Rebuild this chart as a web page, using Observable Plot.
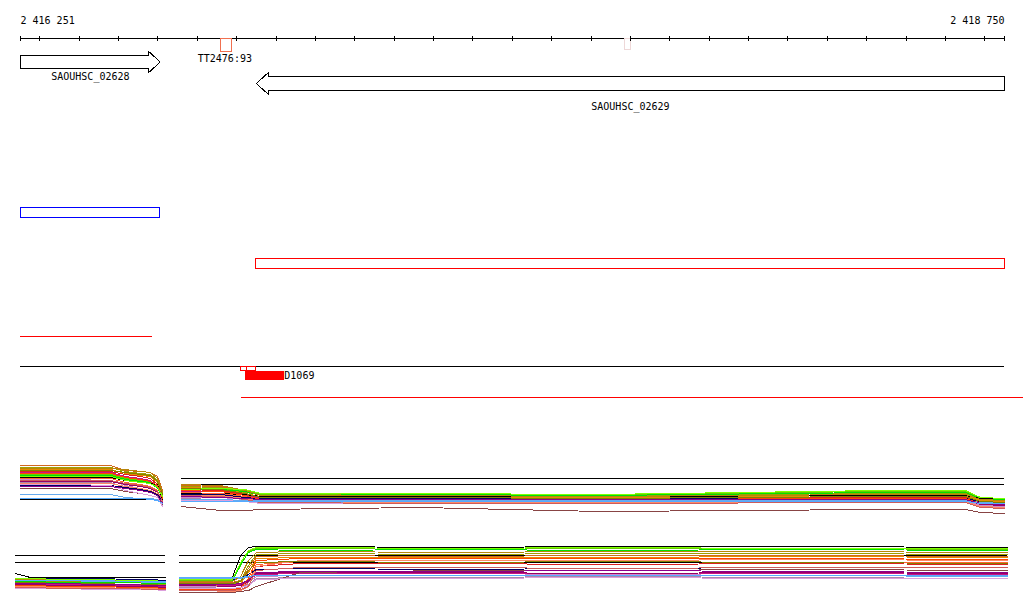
<!DOCTYPE html>
<html><head><meta charset="utf-8">
<script src="https://cdn.jsdelivr.net/npm/d3@7"></script>
<script src="https://cdn.jsdelivr.net/npm/@observablehq/plot@0.6"></script>
<style>
html,body{margin:0;padding:0;background:#fff;}
#chart{position:relative;width:1024px;height:611px;overflow:hidden;background:#fff;}
#chart svg{position:absolute;left:0;overflow:visible;background:transparent;max-width:none;}
</style></head><body><div id="chart"></div>
<script>
// ---------- data ----------
const VIEW = [2416251, 2418750];
const coordLabels = ["2 416 251", "2 418 750"];
const tickStep = 100;

const geneNames = ["SAOUHSC_02628", "SAOUHSC_02629"];
const geneStarts = [2416251, 2416850];
const geneEnds = [2416606, 2418750];
const geneStrands = ["+", "-"];
const geneRows = [0, 1];

const siteNames = ["TT2476:93", ""];
const siteStarts = [2416759, 2417787];
const siteEnds = [2416787, 2417802];

const blueRegion = [2416251, 2416606];
const redRegion = [2416850, 2418750];
const redLine1 = [2416251, 2416586];
const blackLine = [2416251, 2418750];
const smallBoxStarts = [2416812, 2416825];
const smallBoxEnds = [2416850, 2416850];
const probeName = ["D1069"];
const probeRange = [2416822, 2416921];
const redLine2 = [2416812, 2418798];

const seriesColors = ["#d2691e","#a0a000","#e68a00","#dd2020","#c71585","#66cc00","#00e000","#000000",
  "#ff6633","#cc88cc","#990066","#aa88aa","#ff8866","#000066","#66aaee","#884444",
  "#b8860b","#808000","#ff4500","#dda0dd","#7fff00","#cd5c5c","#8b008b","#55aaff"];

// top strand profiles
const topLeftX = [2416251, 2416378, 2416480, 2416518, 2416556, 2416581, 2416599, 2416612];
const topRightX = [2416660, 2416759, 2416822, 2416861, 2417267, 2417724, 2418435, 2418651, 2418689, 2418750];
const topLeftRules = [16];
const topRightRules = [37, 31];
const topLeftValues = [
  [50,50,50,45,44,43,39,25],[48,48,48,44,42,41,35,22],[46,46,46,42,40,39,33,20],[44,44,44,41,39,37,31,18],
  [43,43,43,39,37,35,29,15],[41,41,41,37,35,34,28,19],[40,40,40,36,34,33,27,18],[38,38,38,35,33,32,31,15],
  [37,37,37,33,31,29,25,13],[36,36,35,30,27,25,21,11],[34,34,34,31,29,27,23,12],[33,33,33,28,25,23,20,10],
  [32,32,32,29,27,25,22,14],[30,30,30,28,26,24,21,15],[21,21,21,18,17,17,16,13],[27,27,27,24,22,20,18,10],
  [47,47,47,46,44,43,37,23],[45,45,45,43,41,40,34,21],[42,42,42,38,36,34,30,17],[31,31,30,25,22,20,18,9],
  [39,39,39,35,33,32,28,19],[35,35,35,32,30,28,24,14],[29,29,29,27,25,23,20,12],[17,17,17,17,17,16,15,12]
];
const topRightValues = [
  [30,29,24,20,20,19,21,21,16,15],[29,28,23,21,21,20,22,22,17,16],[28,27,22,19,19,18,20,20,15,14],[26,25,21,18,18,17,18,18,13,12],
  [24,24,20,17,16,16,17,17,12,11],[27,27,25,21,22,21,24,24,18,17],[25,26,24,20,21,20,23,23,17,16],[22,22,21,19,19,19,20,20,17,17],
  [23,22,19,16,15,15,16,16,11,10],[18,18,16,14,14,14,15,15,10,9],[19,19,17,15,15,15,16,16,11,10],[17,16,15,13,13,13,14,14,9,8],
  [20,20,17,14,13,13,14,14,9,8],[21,21,18,17,17,17,17,17,14,13],[16,16,15,15,15,15,15,15,13,13],[9,5,5,6,8,4,6,6,3,2],
  [31,30,25,20,20,19,21,21,16,15],[27,26,22,18,18,17,19,19,14,13],[25,24,20,16,16,16,17,17,12,11],[15,15,14,12,12,12,13,13,8,7],
  [26,27,26,22,22,21,25,25,18,17],[20,19,16,13,12,12,13,13,8,7],[19,18,17,16,16,16,16,16,12,11],[14,14,14,14,14,14,14,14,12,12]
];

// bottom strand profiles
const bottomLeftX = [2416238, 2416276, 2416353, 2416454, 2416530, 2416581, 2416619];
const bottomRightX = [2416655, 2416708, 2416789, 2416810, 2416830, 2416850, 2416962, 2417343, 2417724, 2418232, 2418758];
const bottomRules = [45, 38];
const bottomLeftValues = [
  [20,20,19,19,18,18,17],[19,19,19,18,18,17,16],[18,18,18,17,16,16,15],[16,16,16,15,15,14,13],
  [17,17,16,16,15,15,14],[21,21,20,20,19,19,18],[19,19,18,18,18,17,17],[27,23,23,23,23,23,23],
  [15,15,15,14,14,13,12],[14,14,14,14,13,13,12],[16,16,15,15,14,14,13],[13,13,13,13,12,12,11],
  [14,14,13,13,12,12,11],[22,22,22,22,21,21,20],[20,20,20,19,19,18,18],[12,12,12,12,11,11,10],
  [21,21,21,20,20,19,19],[18,18,17,17,16,16,15],[15,15,14,14,13,13,12],[12,12,12,11,11,11,10],
  [22,22,21,21,20,20,19],[13,13,12,12,12,11,11],[17,17,17,16,16,15,15],[20,20,20,20,19,19,19]
];
const bottomRightValues = [
  [18,18,18,20,32,44,45,44,45,45,44],[17,17,16,20,35,46,47,46,47,47,46],[15,15,15,17,28,42,43,43,43,44,43],[13,13,12,13,20,34,37,37,36,37,36],
  [16,16,15,16,20,26,27,27,26,27,26],[20,20,20,35,49,52,52,51,52,52,51],[19,19,19,36,48,51,50,51,50,51,50],[23,23,23,45,53,54,54,53,54,54,53],
  [12,12,11,12,18,36,39,38,39,38,38],[14,14,14,15,18,24,25,25,26,25,25],[15,15,14,15,19,27,28,28,27,28,27],[13,13,12,13,16,22,23,23,24,23,22],
  [10,10,9,10,14,34,40,40,40,41,40],[21,21,21,22,26,31,32,31,32,31,30],[22,22,22,22,23,25,25,25,25,25,24],[8,8,8,9,10,14,28,30,30,31,30],
  [19,19,19,24,40,48,49,48,49,49,48],[17,17,17,19,30,38,39,38,39,38,37],[11,11,11,12,22,40,42,42,42,42,41],[12,12,12,13,15,21,22,22,23,22,22],
  [21,21,21,38,50,53,53,52,53,52,52],[10,10,10,11,14,30,33,33,32,33,33],[16,16,16,17,20,28,29,29,30,29,28],[23,23,23,23,24,25,25,25,25,25,25]
];

// ---------- layout ----------
const chart = document.getElementById("chart");
const FONT = "DejaVu Sans Mono";
function track(top, height, yDomain, marks, reverse = false) {
  const svg = Plot.plot({
    width: 1024, height,
    marginLeft: 20, marginRight: 20, marginTop: 0, marginBottom: 0,
    x: {domain: VIEW, axis: null},
    y: {domain: yDomain, axis: null, reverse},
    color: {type: "identity"},
    style: {background: "transparent", overflow: "visible", fontFamily: FONT, fontSize: "10px", color: "black"},
    marks
  });
  svg.style.top = top + "px";
  chart.appendChild(svg);
}
const txt = {fontFamily: FONT, fontSize: 10, fill: "black"};
const crisp = {shapeRendering: "crispEdges"};

// axis track (y = offset in px above the axis line)
const ticks = [VIEW[0], ...d3.range(Math.ceil(VIEW[0] / tickStep) * tickStep, VIEW[1], tickStep), VIEW[1]];
track(0, 76, [-38, 38], [
  Plot.ruleY([0], {x1: () => VIEW[0], x2: () => VIEW[1], stroke: "black", ...crisp}),
  Plot.rect([1], {x1: i => siteStarts[i], x2: i => siteEnds[i], y1: () => -11, y2: () => 0, fill: "white", stroke: "#eed8d8", ...crisp}),
  Plot.ruleX(ticks, {y1: () => -2.7, y2: () => 2.3, stroke: "black", ...crisp}),
  Plot.rect([0], {x1: i => siteStarts[i], x2: i => siteEnds[i], y1: () => -13, y2: () => 0, fill: "white", stroke: "#f07050", ...crisp}),
  Plot.text([0], {x: i => (siteStarts[i] + siteEnds[i]) / 2 - 3, y: () => -20, text: i => siteNames[i], ...txt}),
  Plot.text([0], {x: () => VIEW[0], y: () => 18, text: i => coordLabels[i], textAnchor: "start", ...txt}),
  Plot.text([1], {x: () => VIEW[1], y: () => 18, text: i => coordLabels[i], textAnchor: "end", ...txt})
]);

// gene track (rows, reversed)
const HEAD = 30, BODY = 0.31, HEADW = 0.5;
const arrowPts = [];
geneNames.forEach((g, i) => {
  const s = geneStarts[i], e = geneEnds[i], r = geneRows[i];
  const pts = geneStrands[i] === "+"
    ? [[s, r - BODY], [e - HEAD, r - BODY], [e - HEAD, r - HEADW], [e, r], [e - HEAD, r + HEADW], [e - HEAD, r + BODY], [s, r + BODY], [s, r - BODY]]
    : [[e, r - BODY], [s + HEAD, r - BODY], [s + HEAD, r - HEADW], [s, r], [s + HEAD, r + HEADW], [s + HEAD, r + BODY], [e, r + BODY], [e, r - BODY]];
  pts.forEach(([x, y]) => arrowPts.push({x, y, g}));
});
track(40, 64.5, [-1, 2], [
  Plot.line(arrowPts, {x: "x", y: "y", z: "g", fill: "white", stroke: "black", strokeWidth: 1, ...crisp}),
  Plot.text(geneNames.map((_, i) => i), {x: i => (geneStarts[i] + geneEnds[i]) / 2, y: i => geneRows[i] + (geneStrands[i] === "+" ? 0.67 : 1.07), text: i => geneNames[i], ...txt})
], true);

// feature tracks
track(207, 10, [0, 1], [Plot.rect([blueRegion], {x1: d => d[0], x2: d => d[1], y1: () => 0, y2: () => 1, fill: "none", stroke: "#0000ff", ...crisp})]);
track(258, 10, [0, 1], [Plot.rect([redRegion], {x1: d => d[0], x2: d => d[1], y1: () => 0, y2: () => 1, fill: "none", stroke: "#ff0000", ...crisp})]);
track(335, 2, [0, 1], [Plot.ruleY([0.5], {x1: () => redLine1[0], x2: () => redLine1[1], stroke: "#ff0000", ...crisp})]);
track(365, 2, [0, 1], [Plot.ruleY([0.5], {x1: () => blackLine[0], x2: () => blackLine[1], stroke: "black", ...crisp})]);
track(366, 4, [0, 1], [Plot.rect([0, 1], {x1: i => smallBoxStarts[i], x2: i => smallBoxEnds[i], y1: () => 0, y2: () => 1, fill: "none", stroke: "#ff0000", ...crisp})]);
track(371, 9, [0, 1], [
  Plot.rect([probeRange], {x1: d => d[0], x2: d => d[1], y1: () => 0, y2: () => 1, fill: "#ff0000", ...crisp}),
  Plot.text([0], {x: () => probeRange[1], y: () => 0.5, text: i => probeName[i], textAnchor: "start", dx: 0, ...txt})
]);
track(396, 2, [0, 1], [Plot.ruleY([0.5], {x1: () => redLine2[0], x2: () => redLine2[1], stroke: "#ff0000", ...crisp})]);

// expression panels
function rows(xs, sets, panel) {
  const out = [];
  sets.forEach((vals, s) => vals.forEach((v, j) => out.push({x: xs[j], y: v, s, key: panel + s})));
  return out;
}
const lineOpts = {x: "x", y: "y", z: "key", stroke: d => seriesColors[d.s], strokeWidth: 1, ...crisp};

track(455, 60, [0, 60], [
  Plot.ruleY(topLeftRules, {x1: () => topLeftX[0], x2: () => topLeftX[topLeftX.length - 1], stroke: "black", ...crisp}),
  Plot.ruleY(topRightRules, {x1: () => topRightX[0], x2: () => topRightX[topRightX.length - 1], stroke: "black", ...crisp}),
  Plot.line(rows(topLeftX, topLeftValues, "L"), lineOpts),
  Plot.line(rows(topRightX, topRightValues, "R"), lineOpts)
]);

track(540, 60, [0, 60], [
  Plot.ruleY(bottomRules, {x1: () => bottomLeftX[0], x2: () => bottomLeftX[bottomLeftX.length - 1], stroke: "black", ...crisp}),
  Plot.ruleY(bottomRules, {x1: () => bottomRightX[0], x2: () => bottomRightX[bottomRightX.length - 1], stroke: "black", ...crisp}),
  Plot.line(rows(bottomLeftX, bottomLeftValues, "L"), lineOpts),
  Plot.line(rows(bottomRightX, bottomRightValues, "R"), lineOpts)
]);
</script></body></html>
